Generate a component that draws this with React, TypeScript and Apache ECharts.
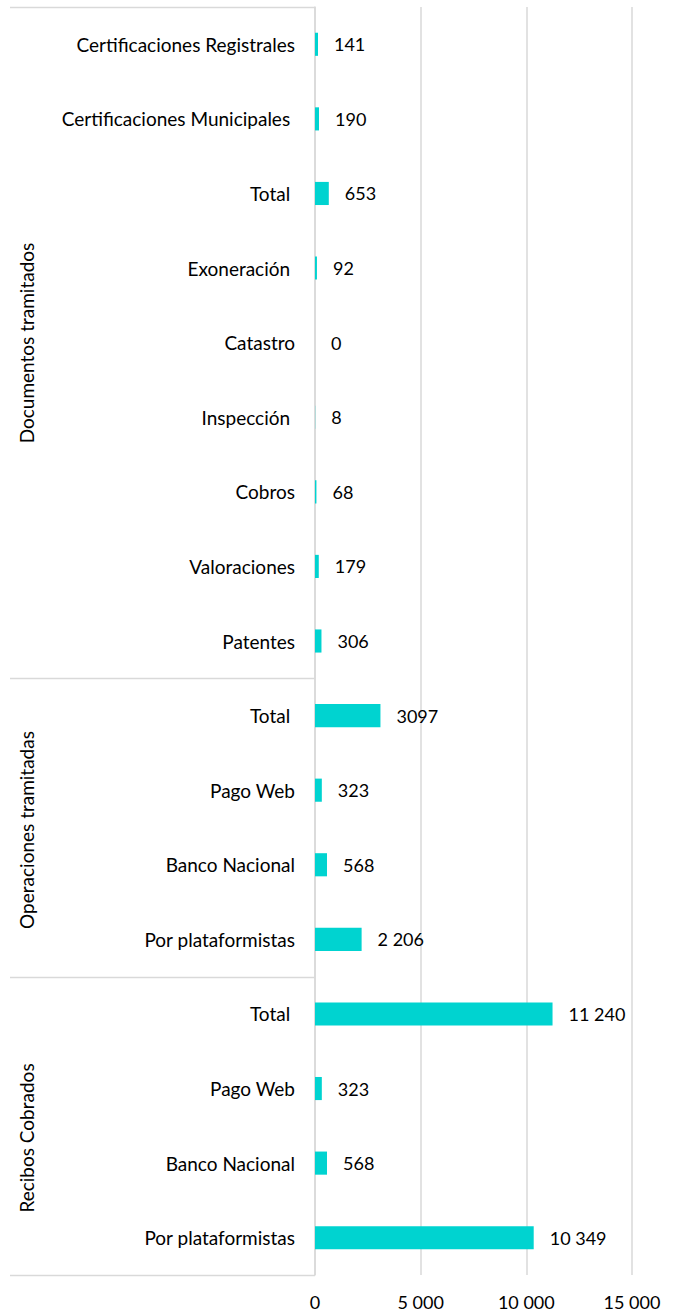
import React, { useEffect, useRef } from "react";
import * as echarts from "echarts";

// Categories from bottom to top
const categories = [
  "Por plataformistas", "Banco Nacional", "Pago Web", "Total ",
  "Por plataformistas", "Banco Nacional", "Pago Web", "Total ",
  "Patentes", "Valoraciones", "Cobros", "Inspección ", "Catastro", "Exoneración ", "Total ",
  "Certificaciones Municipales ", "Certificaciones Registrales",
];
const values = [10349, 568, 323, 11240, 2206, 568, 323, 3097, 306, 179, 68, 8, 0, 92, 653, 190, 141];
const valueLabels = ["10 349", "568", "323", "11 240", "2 206", "568", "323", "3097", "306", "179", "68", "8", "0", "92", "653", "190", "141"];
const groups = [
  { name: "Recibos Cobrados", from: 0, to: 3 },
  { name: "Operaciones tramitadas", from: 4, to: 7 },
  { name: "Documentos tramitados", from: 8, to: 16 },
];
const xTicks = [0, 5000, 10000, 15000];

const FONT = "Lato";

export default function App() {
  const ref = useRef<HTMLDivElement>(null);
  useEffect(() => {
    document.body.style.margin = "0";
    const chart = echarts.init(ref.current!, null, { renderer: "svg" });
    chart.setOption({
      animation: false,
      grid: { left: 315, right: 41, top: 7, bottom: 39 },
      xAxis: {
        type: "value",
        min: xTicks[0],
        max: xTicks[xTicks.length - 1],
        interval: 5000,
        axisLine: { show: false },
        axisTick: { show: false },
        splitLine: { lineStyle: { color: "#d9d9d9", width: 1.5 } },
        axisLabel: {
          margin: 18,
          color: "#000",
          fontFamily: FONT,
          fontSize: 18,
          formatter: (v: number) => (v >= 1000 ? String(v).replace(/\B(?=(\d{3})+(?!\d))/g, " ") : String(v)),
        },
      },
      yAxis: {
        type: "category",
        data: categories,
        axisLine: { show: true, lineStyle: { color: "#d9d9d9", width: 1.5 } },
        axisTick: { show: false },
        axisLabel: { margin: 20, color: "#000", fontFamily: FONT, fontSize: 19 },
      },
      series: [
        {
          type: "bar",
          data: values,
          barWidth: "31%",
          itemStyle: { color: "#00d3d0" },
          label: {
            show: true,
            position: "right",
            distance: 16,
            color: "#000",
            fontFamily: FONT,
            fontSize: 18,
            formatter: (p: any) => valueLabels[p.dataIndex],
          },
        },
      ],
    });

    // group separators and group labels
    const axisX = chart.convertToPixel({ xAxisIndex: 0 }, 0) as number;
    const half = () => {
      const c = chart.convertToPixel({ yAxisIndex: 0 }, 0) as number;
      const c2 = chart.convertToPixel({ yAxisIndex: 0 }, 1) as number;
      return Math.abs(c - c2) / 2;
    };
    const bandTop = (i: number) => (chart.convertToPixel({ yAxisIndex: 0 }, i) as number) - half();
    const bandBottom = (i: number) => (chart.convertToPixel({ yAxisIndex: 0 }, i) as number) + half();
    const graphics: any[] = [];
    const lineYs = [bandBottom(0), ...groups.map((g) => bandTop(g.to))];
    lineYs.forEach((y) => {
      graphics.push({
        type: "line",
        shape: { x1: 10, y1: Math.round(y) + 0.5, x2: axisX, y2: Math.round(y) + 0.5 },
        style: { stroke: "#d9d9d9", lineWidth: 1.5 },
      });
    });
    const labelCenters = [1138, 830, 343];
    groups.forEach((g, k) => {
      graphics.push({
        type: "text",
        x: 26,
        y: labelCenters[k],
        rotation: Math.PI / 2,
        style: {
          text: g.name,
          fontFamily: FONT,
          fontSize: 19,
          fill: "#000",
          align: "center",
          verticalAlign: "middle",
        },
      });
    });
    chart.setOption({ graphic: graphics });
    return () => chart.dispose();
  }, []);
  return <div ref={ref} style={{ position: "absolute", left: 0, top: 0, width: 673, height: 1314 }} />;
}
